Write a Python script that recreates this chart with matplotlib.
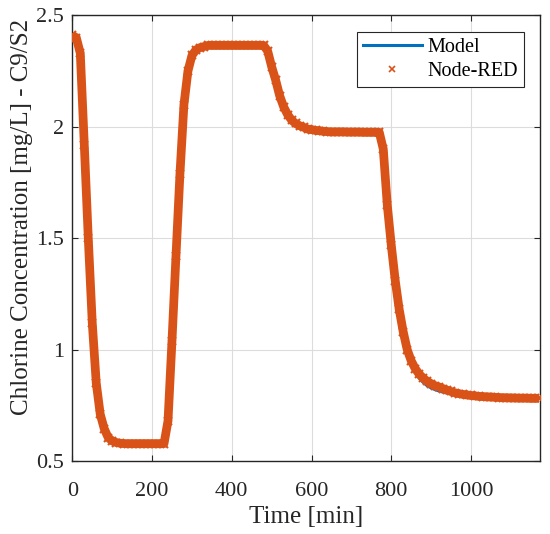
import numpy as np
import matplotlib.pyplot as plt
from matplotlib.lines import Line2D

plt.rcParams['font.family'] = ['Liberation Serif', 'DejaVu Serif']

# time axis [min], one value every 10 min
t = np.arange(0, 1180, 10)

# Node-RED samples
node_red = [
    2.41, 2.40, 2.33, 1.92, 1.50, 1.12, 0.85, 0.71, 0.645, 0.605,    # 0-90
    0.59, 0.583, 0.58, 0.578, 0.578, 0.578, 0.578, 0.578, 0.578, 0.578,  # 100-190
    0.578, 0.578, 0.578, 0.578, 0.68, 1.04, 1.42, 1.79, 2.10, 2.25,  # 200-290
    2.32, 2.345, 2.355, 2.36, 2.365, 2.365, 2.365, 2.365, 2.365, 2.365,  # 300-390
    2.365, 2.365, 2.365, 2.365, 2.365, 2.365, 2.365, 2.365, 2.365, 2.34,  # 400-490
    2.27, 2.21, 2.14, 2.09, 2.055, 2.03, 2.015, 2.005, 1.998, 1.99,  # 500-590
    1.987, 1.984, 1.982, 1.98, 1.978, 1.977, 1.977, 1.977, 1.977, 1.976,  # 600-690
    1.976, 1.976, 1.976, 1.975, 1.975, 1.975, 1.975, 1.975, 1.90, 1.65,  # 700-790
    1.47, 1.31, 1.18, 1.08, 1.00, 0.95, 0.915, 0.89, 0.872, 0.858,  # 800-890
    0.847, 0.838, 0.832, 0.825, 0.818, 0.812, 0.806, 0.802, 0.799, 0.796,  # 900-990
    0.794, 0.792, 0.790, 0.789, 0.788, 0.787, 0.786, 0.785, 0.784, 0.784,  # 1000-1090
    0.783, 0.783, 0.782, 0.782, 0.782, 0.781, 0.781, 0.781,  # 1100-1170
]

# model curve (mostly hidden under the Node-RED band)
model = [
    2.41, 2.40, 2.33, 1.92, 1.50, 1.12, 0.85, 0.71, 0.645, 0.605,
    0.59, 0.583, 0.58, 0.578, 0.578, 0.578, 0.578, 0.578, 0.578, 0.578,
    0.578, 0.578, 0.578, 0.578, 0.68, 1.04, 1.42, 1.79, 2.10, 2.25,
    2.32, 2.345, 2.355, 2.36, 2.365, 2.365, 2.365, 2.365, 2.365, 2.365,
    2.365, 2.365, 2.365, 2.365, 2.365, 2.365, 2.365, 2.365, 2.365, 2.345,
    2.28, 2.22, 2.15, 2.095, 2.058, 2.032, 2.016, 2.005, 1.998, 1.99,
    1.987, 1.984, 1.982, 1.98, 1.978, 1.977, 1.977, 1.977, 1.977, 1.976,
    1.976, 1.976, 1.976, 1.975, 1.975, 1.975, 1.975, 1.975, 1.91, 1.67,
    1.49, 1.32, 1.18, 1.07, 0.99, 0.935, 0.898, 0.872, 0.853, 0.838,
    0.828, 0.820, 0.814, 0.809, 0.805, 0.801, 0.798, 0.795, 0.793, 0.791,
    0.789, 0.788, 0.787, 0.786, 0.785, 0.784, 0.784, 0.783, 0.783, 0.782,
    0.782, 0.782, 0.781, 0.781, 0.781, 0.781, 0.781, 0.781,
]

xticks = [0, 200, 400, 600, 800, 1000]
yticks = [0.5, 1, 1.5, 2, 2.5]
ytick_labels = ['0.5', '1', '1.5', '2', '2.5']

blue = '#0072BD'
orange = '#D95319'

fig = plt.figure(figsize=(5.5, 5.34), dpi=100)
ax = fig.add_axes([0.1315, 0.1367, 0.8495, 0.8345])

ax.plot(t, model, color=blue, lw=2.2, zorder=3)
# dense x markers form a thick band in the original
ax.plot(t, node_red, color=orange, lw=6.3, solid_capstyle='butt', zorder=4)
ax.plot(t, node_red, ls='none', marker='x', ms=6, mew=1.5, color=orange, zorder=5)

ax.set_xlim(0, 1172)
ax.set_ylim(0.5, 2.5)
ax.set_xticks(xticks)
ax.set_yticks(yticks)
ax.set_yticklabels(ytick_labels)
ax.tick_params(direction='in', top=True, right=True, labelsize=16, length=4,
               width=0.8, colors='#262626')
ax.tick_params(axis='x', pad=15)
ax.tick_params(axis='y', pad=6)
for s in ax.spines.values():
    s.set_color('#262626')
    s.set_linewidth(1.0)
ax.grid(True, color='#dcdcdc', lw=0.8)
ax.set_axisbelow(True)

ax.set_xlabel('Time [min]', fontsize=18, color='#262626', labelpad=4)
ax.set_ylabel('Chlorine Concentration [mg/L] - C9/S2', fontsize=18, color='#262626')
ax.yaxis.set_label_coords(-0.085, 0.548)

handles = [
    Line2D([], [], color=blue, lw=2.2),
    Line2D([], [], ls='none', marker='x', ms=5, mew=1.2, color=orange),
]
leg = ax.legend(handles, ['Model', 'Node-RED'], loc='upper right',
                bbox_to_anchor=(0.967, 0.962), borderaxespad=0, fontsize=14.5,
                fancybox=False, framealpha=1, edgecolor='#262626',
                handlelength=2.9, handletextpad=0.3, borderpad=0.3,
                labelspacing=0.2)
leg.get_frame().set_linewidth(0.8)

fig.savefig('out.png', dpi=100)
